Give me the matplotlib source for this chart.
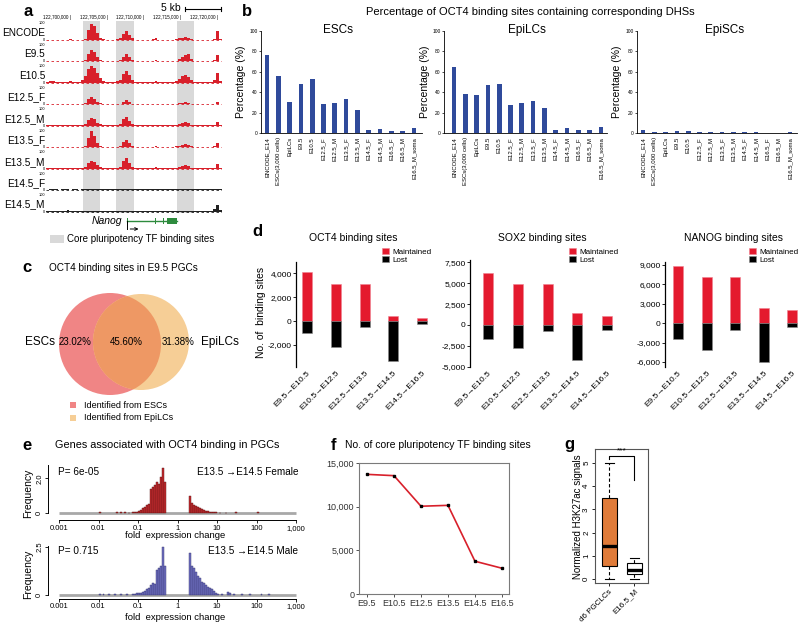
import matplotlib
matplotlib.use("Agg")
from matplotlib import pyplot as plt
from matplotlib.patches import Rectangle, Circle
from matplotlib.ticker import FuncFormatter
import numpy as np

plt.rcParams["font.family"] = ["Liberation Sans", "DejaVu Sans"]

######################################
# Data
######################################

# a: ChIP tracks around Nanog (400 bp bins, 0-100 scale)
track_names = ["ENCODE", "E9.5", "E10.5", "E12.5_F", "E12.5_M",
               "E13.5_F", "E13.5_M", "E14.5_F", "E14.5_M"]
bin_start = 122696600
bin_size = 400
tracks = [
    [2,2,3,2,2,3,2,3,5,3,2,3,3,8,60,100,85,45,12,4,3,2,3,2,4,10,35,55,30,10,3,2,3,2,3,2,4,10,3,2,3,2,3,3,5,10,15,18,14,8,3,2,3,2,3,2,3,8,55,5],
    [2,2,3,2,2,4,2,3,4,3,2,3,3,10,45,70,55,30,10,4,3,2,3,2,4,8,30,45,25,8,3,2,3,2,3,2,3,6,3,2,3,2,3,3,5,15,25,40,45,12,3,2,3,2,3,2,3,6,40,5],
    [8,10,12,8,6,8,6,8,10,8,6,8,15,40,85,100,90,60,30,12,8,6,8,6,10,20,55,75,45,15,8,6,8,6,8,6,8,12,8,6,8,6,8,8,10,25,40,45,35,18,8,6,8,6,8,6,8,15,60,10],
    [2,2,3,2,2,3,2,3,4,3,2,3,3,6,30,45,35,15,6,3,3,2,3,2,3,5,15,25,12,5,3,2,3,2,3,2,3,5,3,2,3,2,3,3,4,6,10,15,10,5,3,2,3,2,3,2,3,5,15,4],
    [2,2,3,2,2,3,2,3,4,3,2,3,4,10,35,45,40,20,8,3,3,2,3,2,4,10,40,55,30,8,3,2,3,2,3,2,3,6,3,2,3,2,3,3,5,10,18,25,15,6,3,2,3,2,3,2,3,6,25,4],
    [2,2,3,2,2,3,2,3,4,3,2,3,3,8,55,100,70,25,8,3,3,2,3,2,4,8,30,45,25,8,3,2,3,2,3,2,3,6,3,2,3,2,3,3,5,10,15,20,14,6,3,2,3,2,3,2,3,6,25,4],
    [2,2,3,2,2,3,2,3,4,3,2,3,4,12,35,45,40,20,8,3,3,2,3,2,4,12,45,65,35,10,3,2,3,2,3,2,3,8,3,2,3,2,3,3,5,10,15,20,14,6,3,2,3,2,3,2,3,6,30,4],
    [3,4,6,4,3,5,8,4,3,5,4,3,5,6,8,10,8,6,5,6,4,5,6,5,6,8,10,8,6,5,4,5,6,5,4,5,6,4,5,6,5,4,5,4,5,6,8,10,8,6,5,4,5,4,5,4,5,6,10,5],
    [2,3,3,2,3,2,3,8,3,2,3,2,2,3,5,6,5,4,3,2,3,2,3,2,3,5,6,5,4,3,2,3,2,3,2,3,2,3,2,3,2,3,2,3,2,5,6,5,4,3,2,2,3,2,2,3,3,15,40,8],
]
core_sites = [(122701620, 122703920), (122706200, 122708650), (122714460, 122716760)]
coord_ticks = [122700000, 122705000, 122710000, 122715000, 122720000]
nanog_start, nanog_end = 122707700, 122714460
nanog_exons = [(122707650, 122707800), (122711420, 122711580), (122712500, 122712660), (122713100, 122714460)]

# b: % of OCT4 sites with DHS
dhs_samples = ["ENCODE_E14", "ESCs(3,000 cells)", "EpiLCs", "E9.5", "E10.5", "E12.5_F",
               "E12.5_M", "E13.5_F", "E13.5_M", "E14.5_F", "E14.5_M", "E16.5_F",
               "E16.5_M", "E16.5_M_soma"]
esc_pct = [76, 56, 30, 48, 52.5, 28, 29.5, 33, 23, 2.6, 3.6, 2, 2.3, 5.2]
epilc_pct = [65, 38.7, 37, 47.5, 48.5, 27, 29.5, 31, 25, 2.6, 4.6, 2.6, 3, 6]
episc_pct = [2.5, 1.2, 1.2, 2, 2, 1, 1, 1, 1, 0.5, 0.5, 0.3, 0.3, 1]

# c: venn
venn_esc_only = 23.02
venn_both = 45.60
venn_epilc_only = 31.38

# d: maintained / lost sites
transitions = ["E9.5\u2192E10.5", "E10.5\u2192E12.5", "E12.5\u2192E13.5",
               "E13.5\u2192E14.5", "E14.5\u2192E16.5"]
oct4_maintained = [4150, 3150, 3150, 460, 280]
oct4_lost = [-970, -2140, -470, -3330, -280]
sox2_maintained = [6200, 4880, 4880, 1400, 1120]
sox2_lost = [-1650, -2750, -680, -4250, -560]
nanog_maintained = [8850, 7030, 7090, 2280, 2020]
nanog_lost = [-2530, -4190, -1090, -6000, -670]

# e: histograms (log10 bin left edges, width 0.05)
fem_edges = [-2.0, -1.55, -1.45, -1.35, -1.25, -1.15, -1.1, -1.05, -1.0, -0.95, -0.9, -0.85,
             -0.8, -0.75, -0.7, -0.65, -0.6, -0.55, -0.5, -0.45, -0.4, -0.35, 0.3, 0.35,
             0.4, 0.45, 0.5, 0.55, 0.6, 0.65, 0.7, 0.75, 0.8, 0.85, 0.9, 0.95, 1.05, 1.2,
             1.45, 2.0]
fem_heights = [0.05, 0.05, 0.06, 0.05, 0.04, 0.05, 0.08, 0.1, 0.15, 0.2, 0.3, 0.35,
               0.45, 0.55, 1.4, 1.5, 1.6, 1.8, 1.7, 2.1, 2.6, 1.8, 1.0, 0.6,
               0.45, 0.4, 0.35, 0.3, 0.25, 0.2, 0.15, 0.12, 0.1, 0.08, 0.05, 0.05, 0.03, 0.04,
               0.05, 0.08]
male_edges = [-2.0, -1.9, -1.75, -1.6, -1.45, -1.3, -1.15, -1.1, -1.05, -1.0, -0.95, -0.9,
              -0.85, -0.8, -0.75, -0.7, -0.65, -0.6, -0.55, -0.5, -0.45, -0.4, -0.35, 0.3,
              0.35, 0.4, 0.45, 0.5, 0.55, 0.6, 0.65, 0.7, 0.75, 0.8, 0.85, 0.9, 0.95, 1.0,
              1.1, 1.25, 1.3, 1.4, 1.6, 1.8, 2.1, 2.3]
male_heights = [0.03, 0.04, 0.03, 0.03, 0.03, 0.04, 0.05, 0.08, 0.1, 0.1, 0.12, 0.15,
                0.2, 0.3, 0.35, 0.5, 0.6, 0.55, 1.3, 1.4, 1.5, 2.5, 1.5, 2.2,
                1.5, 1.4, 1.2, 1.0, 0.9, 0.7, 0.6, 0.5, 0.4, 0.35, 0.3, 0.2, 0.1, 0.05,
                0.05, 0.15, 0.1, 0.04, 0.03, 0.03, 0.03, 0.03]
hist_bin = 0.05
fold_ticks = [0.001, 0.01, 0.1, 1, 10, 100, 1000]
fold_labels = ["0.001", "0.01", "0.1", "1", "10", "100", "1,000"]

# f: core pluripotency TF sites
stages_f = ["E9.5", "E10.5", "E12.5", "E13.5", "E14.5", "E16.5"]
core_counts = [13700, 13550, 10050, 10150, 3750, 2950]

# g: H3K27ac box stats
box_names = ["d6 PGCLCs", "E16.5_M"]
box_stats = [
    dict(whislo=0.0, q1=0.55, med=1.42, q3=3.5, whishi=5.0),
    dict(whislo=0.0, q1=0.22, med=0.40, q3=0.69, whishi=0.92),
]

######################################
# Helpers
######################################

W, H = 800, 625
fig = plt.figure(figsize=(8, 6.25), dpi=100)

bg = fig.add_axes([0, 0, 1, 1])
bg.set_xlim(0, W)
bg.set_ylim(H, 0)
bg.axis("off")


def axes_px(x0, y0, x1, y1):
    return fig.add_axes([x0 / W, 1 - y1 / H, (x1 - x0) / W, (y1 - y0) / H])


def label(x, y, s, **kw):
    bg.text(x, y, s, **kw)


RED = "#D8202B"
BLUE = "#2F4A9B"
BAR_RED = "#E41A2E"

for x, y, s in [(23, 12, "a"), (242, 12, "b"), (22, 268, "c"), (252, 231, "d"),
                (22, 445, "e"), (331, 445, "f"), (564, 445, "g")]:
    label(x, y, s, fontsize=12, fontweight="bold", va="center")

######################################
# a: tracks
######################################

ax = axes_px(46, 20, 222, 232)
ax.set_xlim(bin_start, bin_start + bin_size * len(tracks[0]))
ax.set_ylim(232, 20)
ax.axis("off")

pitch = 21.45
scale = 16.5 / 100
for g0, g1 in core_sites:
    ax.add_patch(Rectangle((g0, 21), g1 - g0, 192, color="#D9D9D9", lw=0, zorder=0))

edges = bin_start + bin_size * np.arange(len(tracks[0]) + 1)
for i, (name, vals) in enumerate(zip(track_names, tracks)):
    base = 40 + pitch * i
    col = RED if i < 7 else "#222222"
    v = np.array(vals, dtype=float)
    ax.stairs(base - v * scale, edges, baseline=base, fill=True, color=col, lw=0, zorder=2)
    ax.hlines(base, edges[0], edges[-1], colors=col, linestyles=(0, (3, 3)), lw=0.6, zorder=2)
    label(45, base - 7, name, ha="right", va="center", fontsize=7.2)
    label(45, base - 16.5, "100", ha="right", va="center", fontsize=2.8)
    label(45, base, "0", ha="right", va="center", fontsize=2.8)

for g in coord_ticks:
    ax.text(g, 17, "{:,} |".format(g), ha="right", va="center", fontsize=3.3, clip_on=False)

ax.plot([122715500, 122720500], [9, 9], color="k", lw=0.8, clip_on=False)
for g in [122715500, 122720500]:
    ax.plot([g, g], [7, 11], color="k", lw=0.8, clip_on=False)
ax.text(122715000, 8, "5 kb", ha="right", va="center", fontsize=7.5, clip_on=False)

ax.plot([nanog_start, nanog_end], [221, 221], color="#2E8B3E", lw=1.0, clip_on=False)
for e0, e1 in nanog_exons:
    ax.add_patch(Rectangle((e0, 218), e1 - e0, 6, color="#2E8B3E", lw=0, clip_on=False))
ax.plot([nanog_start, nanog_start], [221, 229], color="k", lw=0.7, clip_on=False)
ax.annotate("", xy=(nanog_start + 1900, 229), xytext=(nanog_start, 229),
            arrowprops=dict(arrowstyle="->", lw=0.7, color="k", mutation_scale=5),
            annotation_clip=False)
label(122, 221, "Nanog", ha="right", va="center", fontsize=7.5, style="italic")

bg.add_patch(Rectangle((50, 235), 14, 8, color="#D9D9D9", lw=0))
label(67, 239.5, "Core pluripotency TF binding sites", va="center", fontsize=7)

######################################
# b: DHS bars
######################################

label(530, 12, "Percentage of OCT4 binding sites containing corresponding DHSs",
      ha="center", va="center", fontsize=8)

bpanels = [(261, 422, 267, esc_pct, "ESCs", 338),
           (444, 607, 454, epilc_pct, "EpiLCs", 527),
           (637, 797, 643, episc_pct, "EpiSCs", 725)]
step = 11.3
for x0, x1, first, vals, title, tx in bpanels:
    axb = axes_px(x0, 31, x1, 133)
    pos = np.arange(len(dhs_samples))
    axb.bar(pos, vals, width=0.42, color=BLUE)
    left = -(first - x0) / step
    axb.set_xlim(left, left + (x1 - x0) / step)
    axb.set_ylim(0, 100)
    axb.set_yticks([0, 20, 40, 60, 80, 100])
    axb.tick_params(axis="y", labelsize=3.5, length=1.5, width=0.5, pad=1)
    axb.set_xticks(pos)
    axb.set_xticklabels(dhs_samples, rotation=90, fontsize=4.3)
    axb.tick_params(axis="x", length=0, pad=3)
    for s in ["top", "right"]:
        axb.spines[s].set_visible(False)
    axb.spines["left"].set_linewidth(0.6)
    axb.spines["bottom"].set_linewidth(0.6)
    axb.set_ylabel("Percentage (%)", fontsize=7.5, labelpad=2)
    axb.patch.set_alpha(0)
    label(tx, 30, title, ha="center", va="center", fontsize=8.5)

######################################
# c: venn
######################################

label(49, 268, "OCT4 binding sites in E9.5 PGCs", va="center", fontsize=7.2)
c_esc = Circle((110, 344), 51, color="#F08585", lw=0)
c_epi = Circle((141, 342), 48, color="#F6CE96", lw=0)
bg.add_patch(c_esc)
bg.add_patch(c_epi)
c_mid = Circle((141, 342), 48, color="#EE9864", lw=0)
bg.add_patch(c_mid)
c_mid.set_clip_path(Circle((110, 344), 51, transform=bg.transData))
label(40, 342, "ESCs", ha="center", va="center", fontsize=8.5)
label(220, 342, "EpiLCs", ha="center", va="center", fontsize=8.5)
label(75, 342, "{:.2f}%".format(venn_esc_only), ha="center", va="center", fontsize=7)
label(126, 342, "{:.2f}%".format(venn_both), ha="center", va="center", fontsize=7)
label(178, 342, "{:.2f}%".format(venn_epilc_only), ha="center", va="center", fontsize=7)
bg.add_patch(Rectangle((70, 402), 6, 6, color="#F08585", lw=0))
bg.add_patch(Rectangle((70, 415), 6, 6, color="#F6CE96", lw=0))
label(84, 405, "Identified from ESCs", va="center", fontsize=6.5)
label(84, 418, "Identified from EpiLCs", va="center", fontsize=6.5)

######################################
# d: maintained / lost
######################################

dpanels = [
    ("OCT4 binding sites", 353, (296, 262, 440, 367), (-3840, 4950), [-2000, 0, 2000, 4000],
     307, 28.75, oct4_maintained, oct4_lost, (382, 248)),
    ("SOX2 binding sites", 542, (470, 260, 625, 367), (-5030, 7780),
     [-5000, -2500, 0, 2500, 5000, 7500], 488, 29.75, sox2_maintained, sox2_lost, (569, 248)),
    ("NANOG binding sites", 733, (665, 262, 800, 367), (-6780, 9420),
     [-6000, -3000, 0, 3000, 6000, 9000], 678, 28.5, nanog_maintained, nanog_lost, (749, 248)),
]
for title, tx, box, ylim, yt, first, sp, mt, lo, lg in dpanels:
    axd = axes_px(*box)
    pos = np.arange(len(transitions))
    w = 10 / sp
    axd.bar(pos, mt, width=w, color=BAR_RED, edgecolor="#F08090", lw=0.4, label="Maintained")
    axd.bar(pos, lo, width=w, color="black", edgecolor="#888888", lw=0.4, label="Lost")
    left = -(first - box[0]) / sp
    axd.set_xlim(left, left + (box[2] - box[0]) / sp)
    axd.set_ylim(*ylim)
    axd.set_yticks(yt)
    axd.yaxis.set_major_formatter(FuncFormatter(lambda v, p: "{:,.0f}".format(v)))
    axd.tick_params(axis="y", labelsize=6, length=2, width=0.6, pad=1)
    axd.set_xticks(pos)
    axd.set_xticklabels(transitions, rotation=45, ha="right", rotation_mode="anchor", fontsize=6)
    axd.tick_params(axis="x", length=0, pad=2)
    for s in ["top", "right", "bottom"]:
        axd.spines[s].set_visible(False)
    axd.spines["left"].set_linewidth(0.9)
    axd.patch.set_alpha(0)
    axd.legend(loc="upper left", bbox_to_anchor=(lg[0] / W, 1 - lg[1] / H),
               bbox_transform=fig.transFigure, frameon=False, fontsize=5.8,
               handlelength=0.9, handleheight=0.7, handletextpad=0.4, labelspacing=0.05,
               borderpad=0, borderaxespad=0)
    label(tx, 238, title, ha="center", va="center", fontsize=7.5)

label(261, 312, "No. of  binding sites", rotation=90, ha="center", va="center", fontsize=7.5)

######################################
# e: histograms
######################################

label(55, 445, "Genes associated with OCT4 binding in PGCs", va="center", fontsize=7.8)


def fold_hist(box, ylim, base_y, yt, ytl, edges_log, heights, face, edge):
    axh = axes_px(*box)
    axh.set_xscale("log")
    e = np.array(edges_log)
    lefts = 10 ** e
    widths = 10 ** (e + hist_bin) - lefts
    axh.hlines(0, 1e-3, 1e3, color="#A8A8A8", lw=2.0, zorder=1)
    axh.bar(lefts, heights, width=widths, align="edge", color=face, edgecolor=edge,
            lw=0.3, zorder=2)
    axh.set_xlim(10 ** -3.28, 10 ** 3.1)
    axh.set_ylim(*ylim)
    axh.spines["bottom"].set_position(("data", base_y))
    axh.spines["bottom"].set_bounds(1e-3, 1e3)
    axh.spines["left"].set_bounds(0, ylim[1])
    for s in ["top", "right"]:
        axh.spines[s].set_visible(False)
    for s in ["left", "bottom"]:
        axh.spines[s].set_linewidth(0.7)
    axh.set_xticks(fold_ticks)
    axh.set_xticklabels(fold_labels, fontsize=5.5)
    axh.xaxis.set_minor_locator(matplotlib.ticker.NullLocator())
    axh.set_yticks(yt)
    axh.set_yticklabels(ytl, fontsize=5.5, rotation=90, va="center")
    axh.tick_params(length=2, width=0.6, pad=1.5)
    axh.set_ylabel("Frequency", fontsize=7.5, labelpad=2)
    axh.patch.set_alpha(0)
    return axh


fold_hist((48, 465, 300, 522), (-0.5, 2.76), -0.4, [0, 2.0], ["0", "2.0"],
          fem_edges, fem_heights, "#C42A2E", "#5A1212")
fold_hist((48, 546, 300, 602), (-0.36, 2.54), -0.18, [0, 2.5], ["0", "2.5"],
          male_edges, male_heights, "#6F6FBF", "#34346E")

label(58, 472, "P= 6e-05", va="center", fontsize=7.2)
label(197, 472, "E13.5 \u2192E14.5 Female", va="center", fontsize=7.2)
label(175, 536, "fold  expression change", ha="center", va="center", fontsize=6.8)
label(58, 551, "P= 0.715", va="center", fontsize=7.2)
label(208, 551, "E13.5 \u2192E14.5 Male", va="center", fontsize=7.2)
label(175, 618, "fold  expression change", ha="center", va="center", fontsize=6.8)

######################################
# f: line
######################################

label(345, 445, "No. of core pluripotency TF binding sites", va="center", fontsize=7.5)
axf = axes_px(359, 463, 509, 594)
xs = np.arange(len(stages_f))
axf.plot(xs, core_counts, color=RED, lw=1.2, zorder=2)
axf.plot(xs, core_counts, "s", color="black", ms=1.8, zorder=3)
axf.set_xlim(-0.296, 5.26)
axf.set_ylim(0, 15000)
axf.set_yticks([0, 5000, 10000, 15000])
axf.yaxis.set_major_formatter(FuncFormatter(lambda v, p: "{:,.0f}".format(v)))
axf.set_xticks(xs)
axf.set_xticklabels(stages_f)
axf.tick_params(labelsize=6.5, length=2, width=0.6, pad=1.5, colors="#333333")
for s in axf.spines.values():
    s.set_color("#7A7A7A")
    s.set_linewidth(0.8)

######################################
# g: boxplot
######################################

axg = axes_px(595, 449, 648, 583)
stats = []
for nm, st in zip(box_names, box_stats):
    d = dict(st)
    d["label"] = nm
    stats.append(d)
bp = axg.bxp(stats, positions=[1, 2], widths=0.6, patch_artist=True, showfliers=False,
             boxprops=dict(lw=0.8, edgecolor="black"),
             whiskerprops=dict(lw=0.8, linestyle=(0, (3, 2))),
             capprops=dict(lw=0.8), medianprops=dict(color="black", lw=2.4))
bp["boxes"][0].set_facecolor("#E07B39")
bp["boxes"][1].set_facecolor("white")
for c in bp["caps"]:
    c.set_xdata(np.array(c.get_xdata()) * 0 + np.mean(c.get_xdata()) + np.array([-0.18, 0.18]))
axg.set_xlim(0.44, 2.56)
axg.set_ylim(-0.17, 5.6)
axg.set_yticks([0, 1, 2, 3, 4, 5])
axg.set_yticklabels(["0", "1", "2", "3", "4", "5"], rotation=90, va="center")
axg.set_xticks([1, 2])
axg.set_xticklabels(box_names, rotation=45, ha="right", rotation_mode="anchor")
axg.tick_params(labelsize=5.8, length=2, width=0.6, pad=1.5)
for s in axg.spines.values():
    s.set_color("#555555")
    s.set_linewidth(0.8)
label(578, 517, "Normalized H3K27ac signals", rotation=90, ha="center", va="center",
      fontsize=7)
axg.plot([1, 1, 2, 2], [5.15, 5.32, 5.32, 4.25], color="black", lw=0.8)
axg.text(1.5, 5.36, "***", ha="center", va="bottom", fontsize=6)

fig.savefig("out.png", dpi=100)
